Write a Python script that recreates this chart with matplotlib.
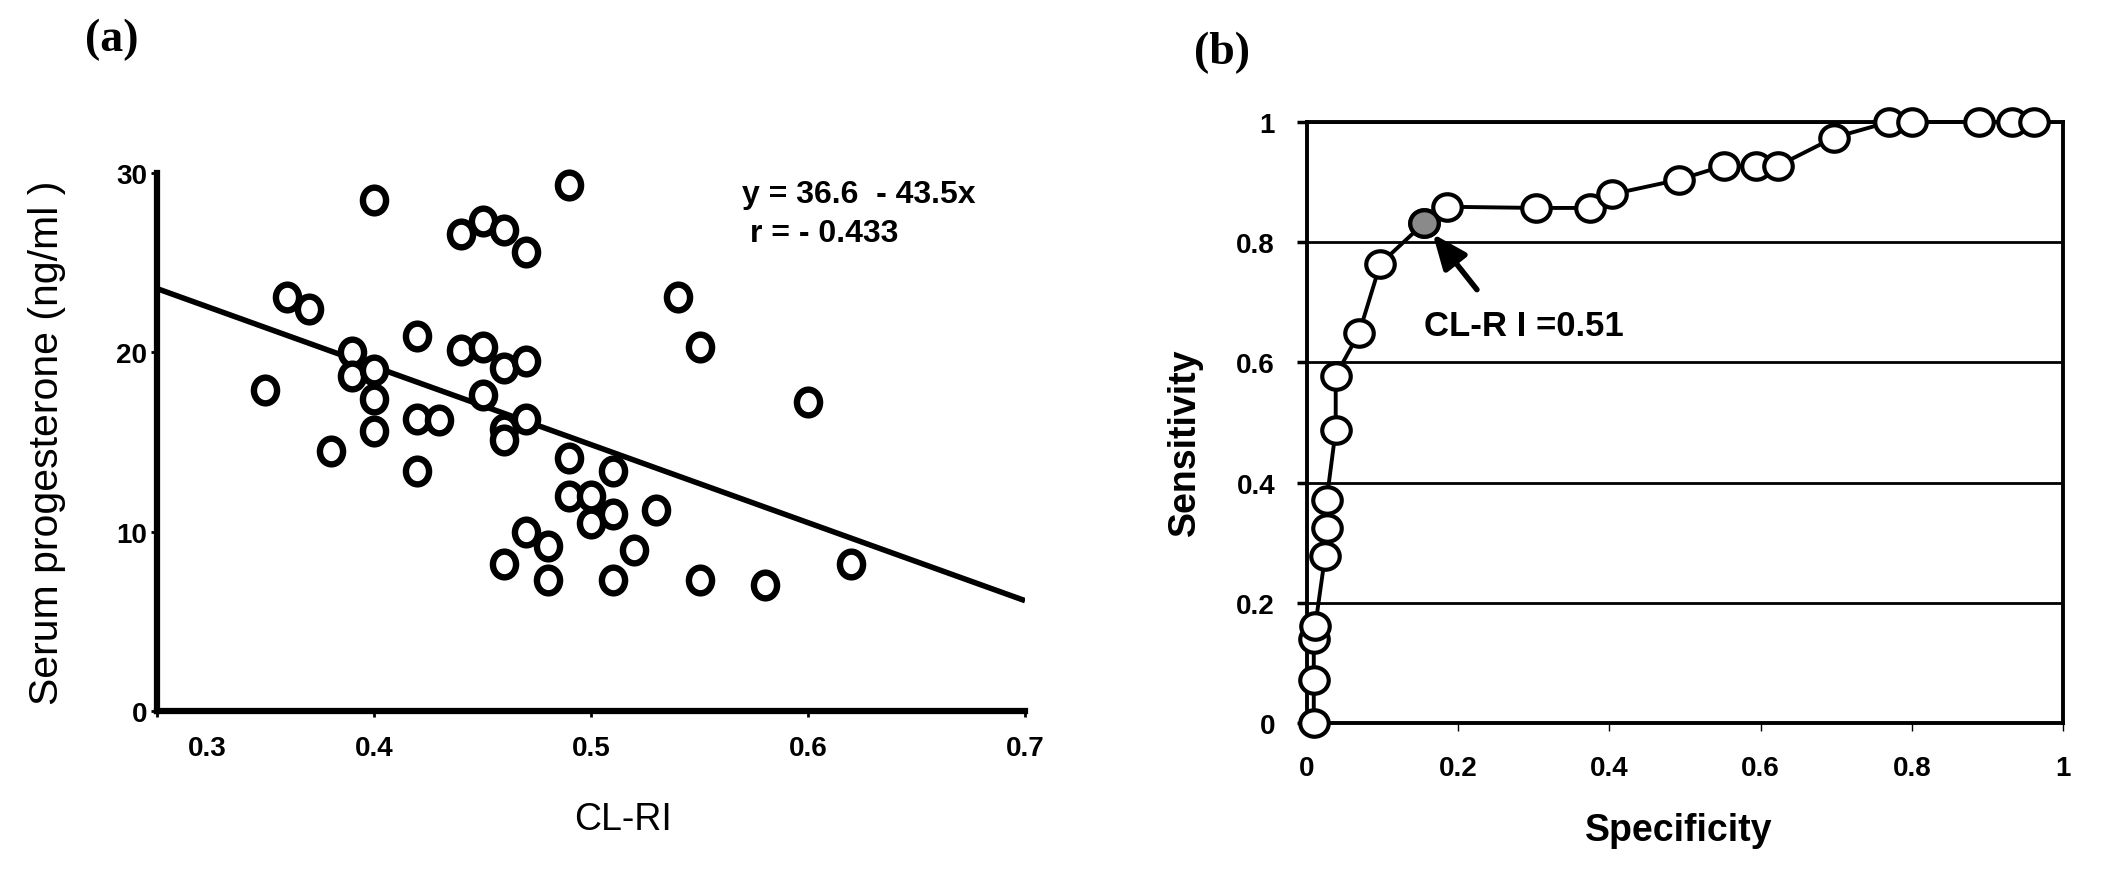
import matplotlib
matplotlib.use("Agg")
import matplotlib.pyplot as plt
from matplotlib.path import Path
from matplotlib.transforms import Affine2D, ScaledTranslation

plt.rcParams["font.family"] = ["Liberation Sans", "DejaVu Sans"]

# (a) CL-RI against serum progesterone
cl_ri = [0.35, 0.36, 0.37, 0.38, 0.39, 0.39, 0.40, 0.40, 0.40, 0.40,
         0.42, 0.42, 0.43, 0.42, 0.44, 0.45, 0.46, 0.47, 0.44, 0.45,
         0.46, 0.47, 0.45, 0.46, 0.46, 0.47, 0.49, 0.49, 0.51, 0.49,
         0.50, 0.51, 0.50, 0.53, 0.52, 0.47, 0.48, 0.46, 0.48, 0.51,
         0.55, 0.58, 0.62, 0.60, 0.54, 0.55]
progesterone = [17.9, 23.1, 22.4, 14.5, 20.0, 18.7, 19.0, 17.4, 15.6, 28.5,
                20.9, 16.3, 16.2, 13.4, 26.6, 27.3, 26.8, 25.6, 20.1, 20.3,
                19.1, 19.5, 17.6, 15.7, 15.1, 16.3, 29.3, 14.1, 13.4, 12.0,
                12.0, 11.0, 10.5, 11.2, 9.0, 10.0, 9.2, 8.2, 7.3, 7.3,
                7.3, 7.0, 8.2, 17.2, 23.1, 20.3]
INTERCEPT = 36.6
SLOPE = -43.5
R_VALUE = -0.433
xticks_a = [0.3, 0.4, 0.5, 0.6, 0.7]
yticks_a = [0, 10, 20, 30]

# (b) ROC curve
specificity = [0.009, 0.009, 0.009, 0.011, 0.024, 0.026, 0.026, 0.038, 0.038,
               0.069, 0.097, 0.155, 0.185, 0.303, 0.374, 0.404, 0.492, 0.551,
               0.594, 0.623, 0.697, 0.770, 0.800, 0.889, 0.933, 0.962]
sensitivity = [0.0, 0.071, 0.139, 0.162, 0.278, 0.325, 0.371, 0.487, 0.578,
               0.649, 0.764, 0.832, 0.859, 0.857, 0.857, 0.880, 0.904, 0.927,
               0.927, 0.927, 0.974, 1.0, 1.0, 1.0, 1.0, 1.0]
CUTOFF_IDX = 11
CUTOFF_TEXT = "CL-R I =0.51"
ticks_b = [0, 0.2, 0.4, 0.6, 0.8, 1]
ticklabels_b = ["0", "0.2", "0.4", "0.6", "0.8", "1"]

TICK_FS = 20

fig = plt.figure(figsize=(21.07, 8.78), dpi=100)
axa = fig.add_axes([0.0745, 0.1891, 0.412, 0.6128])
axb = fig.add_axes([0.6203, 0.1754, 0.3588, 0.6845])

# ---------------- panel (a)
oval_a = Path.unit_circle().transformed(Affine2D().scale(0.9, 1.0))
axa.plot(cl_ri, progesterone, linestyle="none", marker=oval_a, ms=18.5,
         mfc="white", mec="black", mew=4.6, zorder=3, clip_on=False)
xs = [0.3, 0.7]
axa.plot(xs, [INTERCEPT + SLOPE * x for x in xs], color="black", lw=4,
         solid_capstyle="butt", zorder=2)

axa.set_xlim(0.3, 0.7)
axa.set_ylim(0, 30)
for s in ["top", "right"]:
    axa.spines[s].set_visible(False)
for s in ["left", "bottom"]:
    axa.spines[s].set_linewidth(4.5)
axa.set_xticks(xticks_a, labels=["%g" % v for v in xticks_a], fontweight="bold")
axa.set_yticks(yticks_a, labels=["%g" % v for v in yticks_a], fontweight="bold")
axa.tick_params(axis="x", length=4, width=2, labelsize=TICK_FS, pad=13)
axa.tick_params(axis="y", length=4, width=2, labelsize=TICK_FS, pad=3)
# the first x label sits to the right of the corner in the original
first = axa.get_xticklabels()[0]
first.set_transform(first.get_transform() + ScaledTranslation(0.5, 0, fig.dpi_scale_trans))

axa.set_ylabel("Serum progesterone (ng/ml )", fontsize=29.5, va="center")
axa.yaxis.set_label_coords(-0.127, 0.5)
axa.set_xlabel("CL-RI", fontsize=27, va="center")
axa.xaxis.set_label_coords(0.537, -0.20)

axa.text(0.674, 0.961, "y = %.1f  - %.1fx" % (INTERCEPT, -SLOPE),
         transform=axa.transAxes, fontsize=23, fontweight="bold", va="center")
axa.text(0.683, 0.888, "r = - %.3f" % abs(R_VALUE),
         transform=axa.transAxes, fontsize=23, fontweight="bold", va="center")

# ---------------- panel (b)
oval_b = Path.unit_circle().transformed(Affine2D().scale(1.0, 0.93))
axb.plot(specificity, sensitivity, color="black", lw=2.8, marker=oval_b,
         ms=20.5, mfc="white", mec="black", mew=3, zorder=3, clip_on=False)
axb.plot(specificity[CUTOFF_IDX], sensitivity[CUTOFF_IDX], marker=oval_b,
         ms=20.5, mfc="#8a8a8a", mec="black", mew=3, zorder=4, clip_on=False)

axb.set_xlim(0, 1)
axb.set_ylim(0, 1)
for s in axb.spines.values():
    s.set_linewidth(2.8)
axb.set_xticks(ticks_b, labels=ticklabels_b, fontweight="bold")
axb.set_yticks(ticks_b, labels=ticklabels_b, fontweight="bold")
axb.tick_params(axis="x", length=6, width=1, labelsize=TICK_FS, pad=17)
axb.tick_params(axis="y", length=7, width=2.5, labelsize=TICK_FS, pad=16)
axb.grid(axis="y", color="black", lw=2)
axb.set_axisbelow(True)

axb.annotate("", xy=(specificity[CUTOFF_IDX], sensitivity[CUTOFF_IDX]),
             xytext=(38, -48), textcoords="offset points",
             arrowprops=dict(arrowstyle="-|>,head_length=0.6,head_width=0.25",
                             mutation_scale=35, lw=4, color="black",
                             shrinkA=0, shrinkB=10), zorder=5)
axb.text(0.155, 0.662, CUTOFF_TEXT, fontsize=25, fontweight="bold",
         ha="left", va="center")

axb.set_ylabel("Sensitivity", fontsize=27, fontweight="bold", va="center")
axb.yaxis.set_label_coords(-0.161, 0.469)
axb.set_xlabel("Specificity", fontsize=27, fontweight="bold", va="center")
axb.xaxis.set_label_coords(0.492, -0.178)

serif = ["Liberation Serif", "DejaVu Serif"]
fig.text(0.0532, 0.9544, "(a)", family=serif, fontweight="bold", fontsize=33,
         ha="center", va="center")
fig.text(0.580, 0.9396, "(b)", family=serif, fontweight="bold", fontsize=33,
         ha="center", va="center")

fig.savefig("out.png", dpi=100)
